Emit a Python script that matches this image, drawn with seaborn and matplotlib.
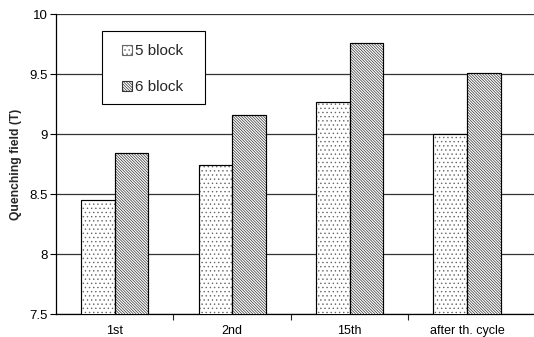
import numpy as np
import pandas as pd
import matplotlib
matplotlib.use('Agg')
import matplotlib.pyplot as plt
import seaborn as sns
from matplotlib.patches import Rectangle
from matplotlib.ticker import FormatStrFormatter, FixedLocator

# Data
cycles = ['1st', '2nd', '15th', 'after th. cycle']
block5 = [8.45, 8.74, 9.27, 9.00]
block6 = [8.84, 9.16, 9.76, 9.51]
series = ['5 block', '6 block']

df = pd.DataFrame({
    'cycle': cycles * 2,
    'field': block5 + block6,
    'series': [series[0]] * 4 + [series[1]] * 4,
})

sns.set_style('white')
plt.rcParams['font.family'] = ['Liberation Sans', 'DejaVu Sans']
plt.rcParams['hatch.linewidth'] = 0.5

fig = plt.figure(figsize=(5.34, 3.37), dpi=100)
ax = fig.add_axes([0.105, 0.068, 0.895, 0.89])

sns.barplot(data=df, x='cycle', y='field', hue='series', order=cycles,
            hue_order=series, width=0.573, ax=ax, legend=False, zorder=3)

# grey dots / dark diagonals, black outline drawn on top
hatches = ['....', '\\' * 12]
hcolors = ['#666666', '#333333']
for cont, h, hc in zip(ax.containers, hatches, hcolors):
    for bar in cont:
        bar.set_facecolor('white')
        bar.set_edgecolor(hc)
        bar.set_linewidth(0.8)
        bar.set_hatch(h)
        ax.add_patch(Rectangle(bar.get_xy(), bar.get_width(), bar.get_height(),
                               fill=False, edgecolor='black', linewidth=0.8,
                               zorder=3.5))

ax.set_ylim(7.5, 10)
ax.set_xlim(-0.5, 3.57)
ax.set_yticks([7.5, 8, 8.5, 9, 9.5, 10])
ax.yaxis.set_major_formatter(FormatStrFormatter('%g'))
ax.yaxis.grid(True, color='#333333', linewidth=0.9, zorder=0)
ax.set_axisbelow(True)

ax.xaxis.set_minor_locator(FixedLocator([0.5, 1.5, 2.5]))
ax.tick_params(axis='x', which='major', length=0, pad=8, labelsize=9, colors='black')
ax.tick_params(axis='x', which='minor', length=4, width=0.8, direction='out', bottom=True)
ax.tick_params(axis='y', length=4, width=0.8, direction='out', left=True, pad=2,
               labelsize=9.5, colors='black')

ax.set_xlabel('')
ax.set_ylabel('Quenching field (T)', fontsize=8.7, fontweight='bold', labelpad=5)

for s in ['left', 'bottom']:
    ax.spines[s].set_color('black')
    ax.spines[s].set_linewidth(0.9)
ax.spines['right'].set_visible(False)
ax.spines['top'].set_visible(False)

# legend box (white, square frame) with legend entries inside
ax.add_patch(Rectangle((0.0956, 0.70), 0.216, 0.244, transform=ax.transAxes,
                       facecolor='white', edgecolor='black', linewidth=0.8,
                       zorder=4.5))
handles = [ax.containers[0][0], ax.containers[1][0]]
leg = ax.legend(handles, series, loc='upper left', bbox_to_anchor=(0.138, 0.90),
                fontsize=11, frameon=False, handlelength=0.65,
                handleheight=0.65, handletextpad=0.2, labelspacing=1.45,
                borderpad=0, borderaxespad=0)
leg.set_zorder(5)

fig.savefig('out.png', dpi=100)
